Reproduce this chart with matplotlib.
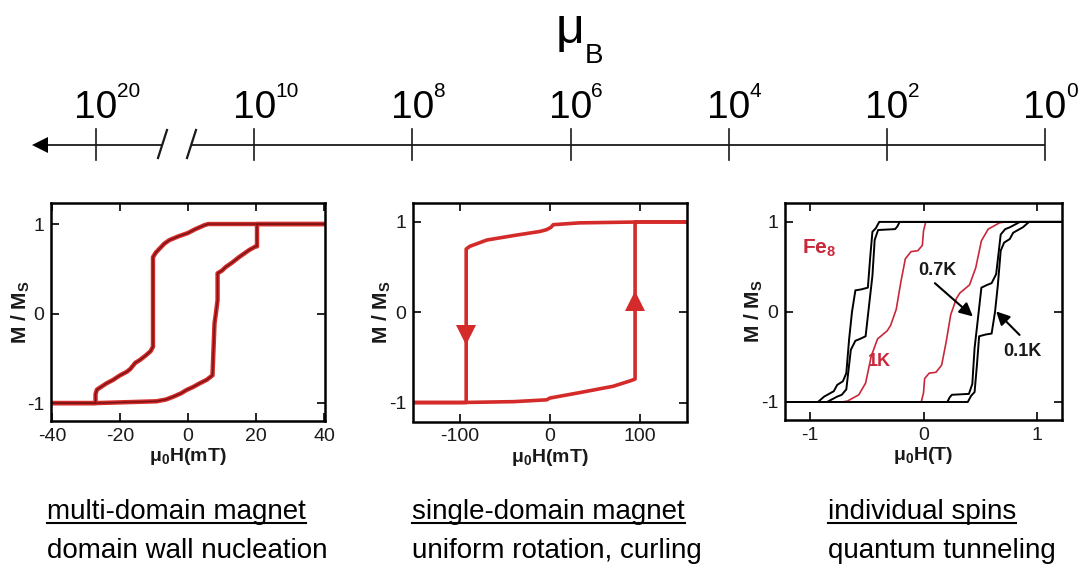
import matplotlib
matplotlib.use('Agg')
import matplotlib.pyplot as plt
from matplotlib.lines import Line2D
import numpy as np

plt.rcParams['font.family'] = ['Liberation Sans', 'DejaVu Sans']
plt.rcParams['axes.unicode_minus'] = False
plt.rcParams['mathtext.fontset'] = 'custom'
plt.rcParams['mathtext.rm'] = 'Liberation Sans'
plt.rcParams['mathtext.it'] = 'Liberation Sans:italic'
plt.rcParams['mathtext.bf'] = 'Liberation Sans:bold'

# ---------------- data ----------------
mu_exponents = [20, 10, 8, 6, 4, 2, 0]

# panel 1: multi-domain magnet (mT)
p1_desc_H = [40, 6.0, 5.0, 2.0, 0.0, -3.0, -5.5, -7.0, -8.5, -9.5, -10.3, -10.3, -11.0, -12.5,
             -14.2, -15.5, -17.0, -18.0, -20.0, -22.0, -24.0, -26.8, -27.2, -27.2, -40]
p1_desc_M = [1.0, 1.0, 0.99, 0.94, 0.90, 0.86, 0.82, 0.78, 0.72, 0.68, 0.63, -0.37, -0.42, -0.47,
             -0.52, -0.55, -0.62, -0.65, -0.69, -0.74, -0.78, -0.85, -0.90, -1.0, -1.0]
p1_asc_H = [-40, -27.2, -9.3, -6.5, -4.4, -2.0, -0.5, 1.5, 3.4, 5.5, 7.2, 7.5, 7.8, 8.2, 8.7, 8.7,
            10.0, 11.1, 13.0, 15.0, 16.5, 18.0, 19.9, 20.3, 20.3, 40]
p1_asc_M = [-1.0, -1.0, -0.98, -0.96, -0.93, -0.89, -0.855, -0.82, -0.78, -0.74, -0.69, -0.40, -0.11,
            0.0, 0.15, 0.45, 0.48, 0.52, 0.57, 0.63, 0.67, 0.71, 0.75, 0.75, 1.0, 1.0]

# panel 2: single-domain magnet (mT)
p2_desc_H = [152, 100, 33, 3.7, 1.0, -3.7, -11, -40, -70, -89, -93, -93, -152]
p2_desc_M = [1.0, 1.0, 0.99, 0.97, 0.94, 0.915, 0.895, 0.85, 0.80, 0.73, 0.70, -1.0, -1.0]
p2_asc_H = [-152, -100, -40, -3.7, 0.0, 33, 70, 89, 94.4, 94.4, 152]
p2_asc_M = [-1.0, -1.0, -0.99, -0.97, -0.95, -0.89, -0.82, -0.76, -0.74, 1.0, 1.0]

# panel 3: Fe8 molecular clusters (T), ascending branches
fe8_1K_H = [-1.22, -0.02, 0.0, 0.01, 0.05, 0.11, 0.16, 0.20, 0.24, 0.29, 0.32, 0.405, 0.46,
            0.51, 0.57, 0.67, 0.72, 1.22]
fe8_1K_M = [-1.0, -1.0, -0.9, -0.74, -0.68, -0.67, -0.59, -0.33, -0.03, 0.15, 0.21, 0.30, 0.49,
            0.79, 0.92, 0.99, 1.0, 1.0]
fe8_07K_H = [-1.22, 0.21, 0.23, 0.25, 0.40, 0.43, 0.45, 0.47, 0.51, 0.56, 0.60, 0.64, 0.68,
             0.72, 0.76, 0.85, 1.22]
fe8_07K_M = [-1.0, -1.0, -0.95, -0.92, -0.91, -0.80, -0.40, -0.18, 0.27, 0.30, 0.32, 0.42, 0.86,
             0.92, 0.94, 1.0, 1.0]
fe8_01K_H = [-1.22, 0.39, 0.42, 0.45, 0.47, 0.49, 0.55, 0.60, 0.63, 0.655, 0.68, 0.71, 0.76,
             0.79, 0.875, 0.93, 1.22]
fe8_01K_M = [-1.0, -1.0, -0.93, -0.89, -0.60, -0.27, -0.25, -0.24, 0.0, 0.30, 0.68, 0.77, 0.81,
             0.88, 0.94, 1.0, 1.0]

titles = ['multi-domain magnet', 'single-domain magnet', 'individual spins']
mechanisms = ['domain wall nucleation', 'uniform rotation, curling', 'quantum tunneling']

# ---------------- figure ----------------
W, H = 1085, 573
fig = plt.figure(figsize=(W / 100, H / 100), dpi=100)


def fx(px):
    return px / W


def fy(py):
    return 1 - py / H


# ---- top moment scale ----
top_h = 175
ax_top = fig.add_axes([0, fy(top_h), 1, top_h / H])
ax_top.axis('off')
step = 158.17
x0 = 96
ax_top.set_xlim(-x0 / step, (W - x0) / step)
ax_top.set_ylim(top_h, 0)


def ix(px):
    return (px - x0) / step


tick_pos = np.arange(len(mu_exponents))
lc = '#1a1a1a'
ax_top.plot([ix(40), ix(162)], [145, 145], color=lc, lw=1.3, solid_capstyle='butt')
ax_top.plot([ix(192), tick_pos[-1]], [145, 145], color=lc, lw=1.3, solid_capstyle='butt')
ax_top.plot([ix(40)], [145], marker='<', ms=12, color='black', mew=0)
for p in tick_pos:
    ax_top.plot([p, p], [129, 160], color=lc, lw=1.2)
ax_top.plot([ix(167), ix(158)], [130, 158], color=lc, lw=1.6)
ax_top.plot([ix(196), ix(187)], [130, 158], color=lc, lw=1.6)
for p, e in zip(tick_pos, mu_exponents):
    ax_top.annotate('10', xy=(p, 118), xytext=(0, 0), textcoords='offset points',
                    ha='center', va='baseline', fontsize=28, color='black')
    ax_top.annotate(str(e), xy=(p, 97), xytext=(15, 0), textcoords='offset points',
                    ha='left', va='baseline', fontsize=15, color='black')

fig.text(fx(556), fy(43), 'μ', fontsize=36, ha='left', va='baseline')
fig.text(fx(585), fy(63), 'B', fontsize=20, ha='left', va='baseline')


# ---- panels ----
def style(ax, xticks, xlim, ylim, xlab, ylab_x):
    ax.set_xlim(*xlim)
    ax.set_ylim(*ylim)
    ax.set_xticks(xticks)
    ax.set_yticks([-1, 0, 1])
    ax.tick_params(direction='in', length=6, width=1.2, top=True, right=True,
                   labelsize=14, pad=5, labelcolor='#1a1a1a')
    for s in ax.spines.values():
        s.set_linewidth(1.8)
    ax.set_xlabel(xlab, fontsize=14, fontweight='bold', color='#1a1a1a')
    ax.xaxis.set_label_coords(0.5, -0.115)
    ax.set_ylabel(r'M / M$_\mathbf{S}$', fontsize=15, fontweight='bold', color='#1a1a1a')
    ax.yaxis.set_label_coords(ylab_x, 0.5)


ax1 = fig.add_axes([fx(51), fy(421), fx(325) - fx(51), (421 - 203) / H])
style(ax1, [-40, -20, 0, 20, 40], (-40.3, 40.3), (-1.2, 1.235),
      'μ$_\\mathregular{0}$H(mT)', -0.07)
for h, m in [(p1_desc_H, p1_desc_M), (p1_asc_H, p1_asc_M)]:
    ax1.plot(h, m, color='#d42a2a', lw=3.2, solid_joinstyle='round')
for h, m in [(p1_desc_H, p1_desc_M), (p1_asc_H, p1_asc_M)]:
    ax1.plot(h, m, color='#7a1515', lw=1.1, solid_joinstyle='round')

ax2 = fig.add_axes([fx(413), fy(421.5), fx(687) - fx(413), (421.5 - 203) / H])
style(ax2, [-100, 0, 100], (-152, 152), (-1.21, 1.21), 'μ$_\\mathregular{0}$H(mT)', -0.073)
for h, m in [(p2_desc_H, p2_desc_M), (p2_asc_H, p2_asc_M)]:
    ax2.plot(h, m, color='#d42a2a', lw=2.6, solid_joinstyle='round')
ax2.plot([p2_desc_H[-3]], [-0.25], marker='v', ms=15, color='#d42a2a', mew=0)
ax2.plot([p2_asc_H[-3]], [0.13], marker='^', ms=15, color='#d42a2a', mew=0)

ax3 = fig.add_axes([fx(785), fy(420), fx(1062) - fx(785), (420 - 203) / H])
style(ax3, [-1, 0, 1], (-1.22, 1.22), (-1.2, 1.21), 'μ$_\\mathregular{0}$H(T)', -0.072)
for h, m, c, lw in [(fe8_1K_H, fe8_1K_M, '#c8283a', 1.2),
                    (fe8_07K_H, fe8_07K_M, 'black', 1.4),
                    (fe8_01K_H, fe8_01K_M, 'black', 1.4)]:
    h = np.array(h)
    m = np.array(m)
    # descending branch is the point reflection of the ascending one
    hh = np.concatenate([h, -h])
    mm = np.concatenate([m, -m])
    ax3.plot(hh, mm, color=c, lw=lw)
ax3.text(-0.92, 0.71, r'Fe$_\mathbf{8}$', color='#c8283a', fontsize=15, fontweight='bold',
         ha='center', va='center')
ax3.text(-0.39, -0.55, '1K', color='#c8283a', fontsize=13, fontweight='bold',
         ha='center', va='center')
ax3.text(0.123, 0.464, '0.7K', color='#1a1a1a', fontsize=13, fontweight='bold',
         ha='center', va='center')
ax3.text(0.87, -0.44, '0.1K', color='#1a1a1a', fontsize=13, fontweight='bold',
         ha='center', va='center')
ax3.annotate('', xy=(0.435, -0.05), xytext=(0.10, 0.32),
             arrowprops=dict(arrowstyle='-|>', lw=1.5, color='black', mutation_scale=20,
                             shrinkA=0, shrinkB=0))
ax3.annotate('', xy=(0.64, 0.006), xytext=(0.846, -0.255),
             arrowprops=dict(arrowstyle='-|>', lw=1.5, color='black', mutation_scale=20,
                             shrinkA=0, shrinkB=0))

# ---- bottom captions ----
renderer = fig.canvas.get_renderer()
text_x = [47, 412, 828]
for xpx, t1, t2 in zip(text_x, titles, mechanisms):
    ta = fig.text(fx(xpx), fy(519), t1, fontsize=20, ha='left', va='baseline', color='black')
    fig.text(fx(xpx), fy(558), t2, fontsize=20, ha='left', va='baseline', color='black')
    bb = ta.get_window_extent(renderer)
    fig.add_artist(Line2D([bb.x0 / W, bb.x1 / W], [fy(522.5), fy(522.5)],
                          transform=fig.transFigure, color='black', lw=1.5))

fig.savefig('out.png', dpi=100, facecolor='white')
